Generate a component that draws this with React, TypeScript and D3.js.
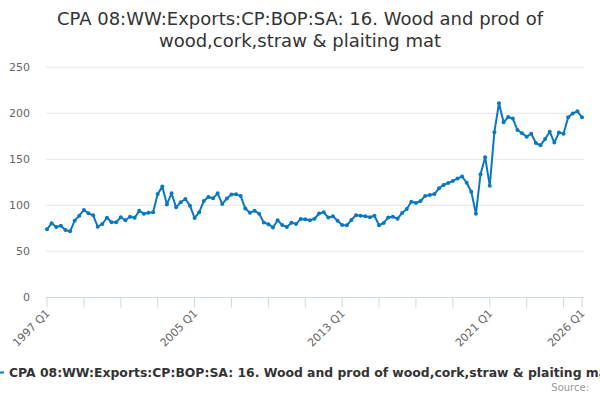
import React from "react";
import * as d3 from "d3";

const title1 = "CPA 08:WW:Exports:CP:BOP:SA: 16. Wood and prod of";
const title2 = "wood,cork,straw & plaiting mat";
const legendLabel = "CPA 08:WW:Exports:CP:BOP:SA: 16. Wood and prod of wood,cork,straw & plaiting mat";
const sourceLabel = "Source:";

const startYear = 1997;
const values: number[] = [
  73.9, 80.4, 76.4, 77.8, 73.2, 71.7, 83.3, 88.7, 94.9, 91.3,
  89.1, 76.7, 79.7, 86.5, 81.5, 81.5, 87.0, 83.7, 87.6, 86.5,
  94.0, 90.9, 92.0, 92.4, 112.3, 120.4, 101.0, 113.0, 97.8, 103.3,
  106.8, 99.6, 86.2, 92.4, 104.8, 109.0, 107.6, 113.0, 101.3, 107.5,
  111.8, 112.1, 110.0, 96.4, 92.0, 94.0, 90.9, 81.3, 79.5, 75.9,
  83.7, 78.5, 76.5, 81.0, 79.8, 85.0, 84.8, 83.7, 85.4, 91.1,
  92.4, 86.7, 88.0, 83.1, 78.5, 78.2, 84.0, 89.3, 88.7, 88.0,
  87.0, 88.6, 78.3, 80.8, 86.8, 87.6, 85.3, 91.7, 95.9, 103.9,
  102.5, 104.7, 110.2, 111.2, 112.2, 118.5, 122.2, 124.2, 126.5, 129.0,
  131.3, 124.5, 114.8, 90.7, 133.8, 152.3, 121.2, 179.5, 210.9, 190.2,
  196.0, 194.3, 181.8, 178.3, 174.6, 177.8, 167.7, 165.3, 172.0, 180.0,
  168.2, 179.0, 177.8, 195.8, 199.8, 202.1, 195.7,
];
const categories: string[] = values.map(
  (_, i) => `${startYear + Math.floor(i / 4)} Q${(i % 4) + 1}`
);
const yTicks = [0, 50, 100, 150, 200, 250];
const tickLabels = ["1997 Q1", "2005 Q1", "2013 Q1", "2021 Q1", "2026 Q1"];

const FONT = "'DejaVu Sans', 'Lucida Grande', sans-serif";
const BLUE = "#0a78c0";

export default function App() {
  const x = d3.scaleLinear().domain([0, values.length - 1]).range([47, 582]);
  const y = d3.scaleLinear().domain([0, 250]).range([297.3, 67.3]);
  const line = d3
    .line<number>()
    .x((_, i) => x(i))
    .y((d) => y(d));

  const minorTicks: number[] = [];
  for (let i = 0; i < values.length; i += 8) minorTicks.push(i);
  if (minorTicks[minorTicks.length - 1] !== values.length - 1) minorTicks.push(values.length - 1);
  const labelIdx = tickLabels.map((t) => categories.indexOf(t));

  return (
    <svg
      width={600}
      height={400}
      style={{ position: "absolute", left: 0, top: 0, background: "#fff" }}
      fontFamily={FONT}
    >
      <rect x={0} y={0} width={600} height={400} fill="#ffffff" />
      <text x={300} y={25} textAnchor="middle" fontSize={18} fill="#333333">
        {title1}
      </text>
      <text x={300} y={47} textAnchor="middle" fontSize={18} fill="#333333">
        {title2}
      </text>

      {yTicks.map((t) => (
        <g key={t}>
          {t > 0 && (
            <line x1={46} x2={584} y1={y(t)} y2={y(t)} stroke="#e6e6e6" strokeWidth={1} />
          )}
          <text x={30} y={y(t) + 4} textAnchor="end" fontSize={11} fill="#666666">
            {t}
          </text>
        </g>
      ))}

      <line x1={46} x2={584} y1={297.5} y2={297.5} stroke="#ccd6eb" strokeWidth={1} />
      {minorTicks.map((i) => (
        <line key={i} x1={x(i)} x2={x(i)} y1={297.5} y2={307.5} stroke="#ccd6eb" strokeWidth={1} />
      ))}
      {labelIdx.map((i, k) => (
        <text
          key={k}
          transform={`translate(${x(i) + 3.5},${314}) rotate(-45)`}
          textAnchor="end"
          fontSize={11}
          fill="#666666"
        >
          {categories[i]}
        </text>
      ))}

      <path d={line(values) || ""} fill="none" stroke={BLUE} strokeWidth={2} strokeLinejoin="round" />
      {values.map((v, i) => (
        <circle key={i} cx={x(i)} cy={y(v)} r={2} fill={BLUE} />
      ))}

      <line x1={-12} x2={4} y1={372.5} y2={372.5} stroke={BLUE} strokeWidth={2} />
      <text x={9} y={377} fontSize={12.4} fontWeight="bold" fill="#333333">
        {legendLabel}
      </text>
      <text x={589} y={391} textAnchor="end" fontSize={10} fill="#999999">
        {sourceLabel}
      </text>
    </svg>
  );
}
